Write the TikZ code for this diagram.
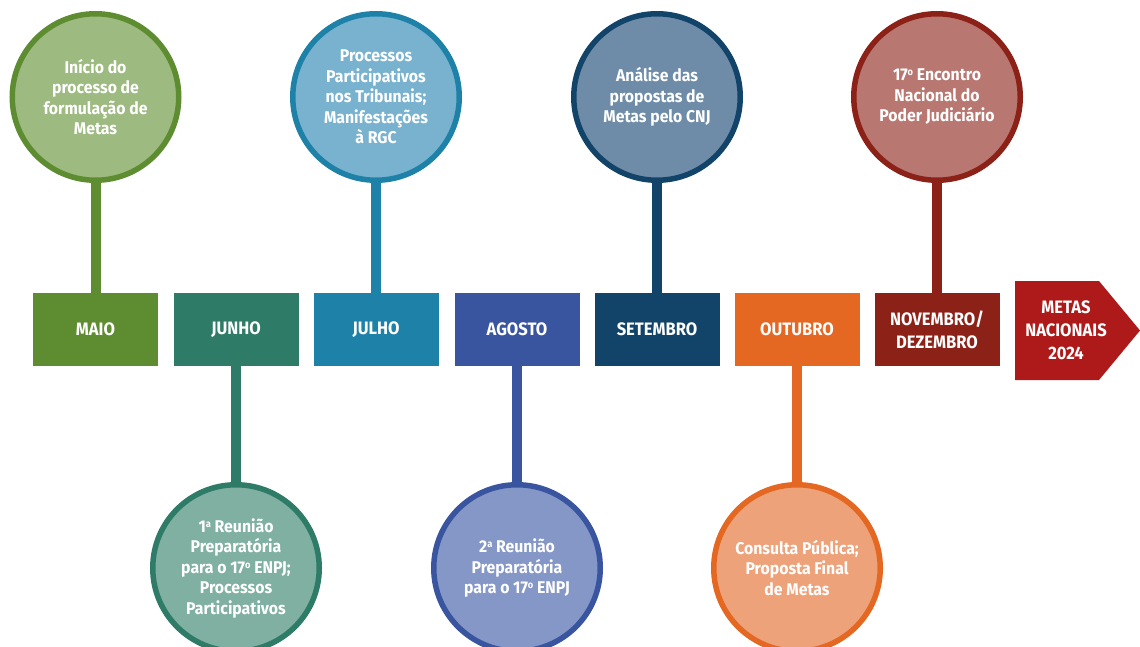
\documentclass[tikz,border=0pt]{standalone}
\usepackage{fontspec}
\setmainfont{Fira Sans}
\newfontfamily\bubblefont{Fira Sans}[FakeStretch=0.93]
\newfontfamily\boxfont{Fira Sans}[FakeStretch=0.92]
\definecolor{cMaio}{HTML}{5E8C31}
\definecolor{cMaioL}{HTML}{9DBA80}
\definecolor{cJun}{HTML}{2E7B67}
\definecolor{cJunL}{HTML}{80B0A2}
\definecolor{cJul}{HTML}{1E81A8}
\definecolor{cJulL}{HTML}{79B2CF}
\definecolor{cAgo}{HTML}{3A55A0}
\definecolor{cAgoL}{HTML}{8597C6}
\definecolor{cSet}{HTML}{12446A}
\definecolor{cSetL}{HTML}{6E8CA8}
\definecolor{cOut}{HTML}{E46722}
\definecolor{cOutL}{HTML}{EDA27A}
\definecolor{cNov}{HTML}{8C2117}
\definecolor{cNovL}{HTML}{B87770}
\definecolor{cMetas}{HTML}{AE1A1A}
\newcommand{\ordsup}[1]{\raisebox{0.55ex}{\fontsize{10}{10}\selectfont #1}}
\begin{document}
\begin{tikzpicture}[x=1pt,y=-1pt]
\useasboundingbox (0,0) rectangle (1140,647);
\tikzset{
 month/.style={rectangle, minimum width=125pt, minimum height=73pt, inner sep=0pt, text=white, font=\boxfont\bfseries\fontsize{18}{23}\selectfont, align=center},
 bubble/.style={circle, minimum size=166.5pt, inner sep=0pt, line width=5.5pt, text=white, align=center, font=\bubblefont\bfseries\fontsize{17}{20.5}\selectfont},
 stem/.style={line width=10pt},
}
% month boxes
\node[month, fill=cMaio] (m1) at (95.5,329.5) {MAIO};
\node[month, fill=cJun] (m2) at (236,329.5) {JUNHO};
\node[month, fill=cJul] (m3) at (376,329.5) {JULHO};
\node[month, fill=cAgo] (m4) at (517,329.5) {AGOSTO};
\node[month, fill=cSet] (m5) at (657,329.5) {SETEMBRO};
\node[month, fill=cOut] (m6) at (797,329.5) {OUTUBRO};
\node[month, fill=cNov] (m7) at (937,329.5) {NOVEMBRO/\\DEZEMBRO};
% final arrow
\fill[cMetas] (1015,281) -- (1099,281) -- (1140,330.5) -- (1099,380) -- (1015,380) -- cycle;
\node[text=white, font=\boxfont\bfseries\fontsize{18}{23}\selectfont, align=center] (metas) at (1066,330) {METAS\\NACIONAIS\\2024};
% bubbles
\node[bubble, draw=cMaio, fill=cMaioL] (c1) at (95.5,97) {Início do\\processo de\\formulação de\\Metas};
\node[bubble, draw=cJun, fill=cJunL] (c2) at (236,568) {1\ordsup{a} Reunião\\Preparatória\\para o 17\ordsup{o} ENPJ;\\Processos\\Participativos};
\node[bubble, draw=cJul, fill=cJulL] (c3) at (376,97) {Processos\\Participativos\\nos Tribunais;\\Manifestações\\à RGC};
\node[bubble, draw=cAgo, fill=cAgoL] (c4) at (517,568) {2\ordsup{a} Reunião\\Preparatória\\para o 17\ordsup{o} ENPJ};
\node[bubble, draw=cSet, fill=cSetL] (c5) at (657,97) {Análise das\\propostas de\\Metas pelo CNJ};
\node[bubble, draw=cOut, fill=cOutL] (c6) at (797,568) {Consulta Pública;\\Proposta Final\\de Metas};
\node[bubble, draw=cNov, fill=cNovL] (c7) at (937,97) {17\ordsup{o} Encontro\\Nacional do\\Poder Judiciário};
% stems
\draw[stem, cMaio] (c1) -- (m1);
\draw[stem, cJun] (m2) -- (c2);
\draw[stem, cJul] (c3) -- (m3);
\draw[stem, cAgo] (m4) -- (c4);
\draw[stem, cSet] (c5) -- (m5);
\draw[stem, cOut] (m6) -- (c6);
\draw[stem, cNov] (c7) -- (m7);
\end{tikzpicture}
\end{document}
